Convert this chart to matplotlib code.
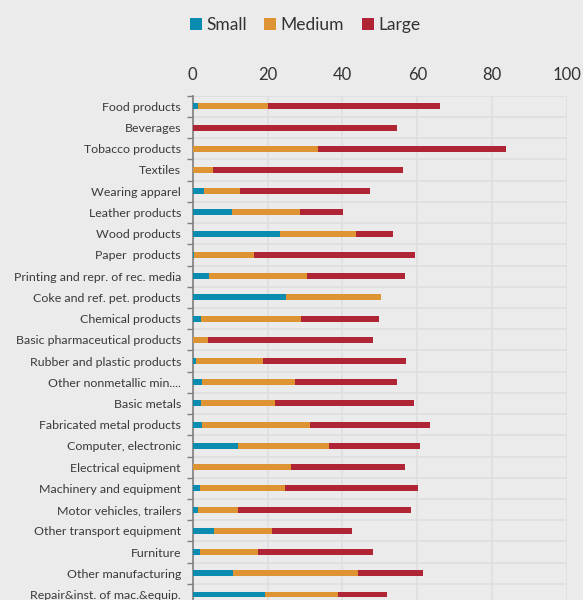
import numpy as np
import matplotlib.pyplot as plt

plt.rcParams['font.family'] = ['Lato', 'DejaVu Sans']

industries = [
    'Food products', 'Beverages', 'Tobacco products', 'Textiles',
    'Wearing apparel', 'Leather products', 'Wood products', 'Paper  products',
    'Printing and repr. of rec. media', 'Coke and ref. pet. products',
    'Chemical products', 'Basic pharmaceutical products',
    'Rubber and plastic products', 'Other nonmetallic min....',
    'Basic metals', 'Fabricated metal products', 'Computer, electronic',
    'Electrical equipment', 'Machinery and equipment',
    'Motor vehicles, trailers', 'Other transport equipment', 'Furniture',
    'Other manufacturing', 'Repair&inst. of mac.&equip.',
]

small = [1.3, 0.0, 0.0, 0.0, 3.1, 10.5, 23.4, 0.3, 4.4, 25.0, 2.3, 0.0,
         0.9, 2.6, 2.2, 2.6, 12.1, 0.0, 2.0, 1.3, 5.7, 2.0, 10.8, 19.4]
medium = [18.8, 0.0, 33.5, 5.5, 9.5, 18.1, 20.1, 16.1, 26.2, 25.2, 26.6, 4.0,
          17.8, 24.6, 19.9, 28.8, 24.4, 26.3, 22.7, 10.8, 15.6, 15.4, 33.4, 19.5]
large = [45.9, 54.7, 50.1, 50.7, 34.8, 11.5, 10.0, 43.0, 26.1, 0.0, 20.9, 44.2,
         38.2, 27.5, 37.1, 31.9, 24.3, 30.3, 35.4, 46.2, 21.2, 30.8, 17.3, 12.9]

c_small = '#0a8bb0'
c_medium = '#df9433'
c_large = '#b02535'
bg = '#ebebeb'

fig = plt.figure(figsize=(5.83, 6.0), dpi=100, facecolor=bg)
ax = fig.add_axes([0.3305, -0.0085, 0.6421, 0.8490], facecolor=bg)

y = np.arange(len(industries))
s = np.array(small)
m = np.array(medium)
l = np.array(large)
h = 0.28
ax.barh(y, s, height=h, color=c_small, label='Small', zorder=3)
ax.barh(y, m, left=s, height=h, color=c_medium, label='Medium', zorder=3)
ax.barh(y, l, left=s + m, height=h, color=c_large, label='Large', zorder=3)

ax.set_xlim(0, 100)
ax.set_ylim(len(industries) - 0.5, -0.5)
ax.set_xticks(np.arange(0, 101, 20))
ax.xaxis.tick_top()
ax.tick_params(axis='x', length=0, pad=9.5, labelsize=12, labelcolor='#333333')

ax.set_yticks(y)
ax.set_yticklabels(industries, fontsize=8.9, color='#3a3a3a')
ax.set_yticks(np.arange(len(industries) + 1) - 0.5, minor=True)
ax.tick_params(axis='y', which='major', length=0, pad=8.4)
ax.tick_params(axis='y', which='minor', length=4, width=1, color='#7f7f7f')

ax.grid(axis='x', color='#dedede', linewidth=1.2, zorder=0)
ax.grid(axis='y', which='minor', color='#dedede', linewidth=1.2, zorder=0)
for side in ['top', 'right', 'bottom']:
    ax.spines[side].set_visible(False)
ax.spines['left'].set_color('#7f7f7f')
ax.spines['left'].set_linewidth(1.2)

fig.legend(loc='center', bbox_to_anchor=(0.523, 0.958), ncol=3, frameon=False,
           fontsize=12.5, handlelength=0.7, handleheight=0.7,
           handletextpad=0.25, columnspacing=1.0, labelcolor='#333333')

fig.savefig('out.png', dpi=100, facecolor=bg)
